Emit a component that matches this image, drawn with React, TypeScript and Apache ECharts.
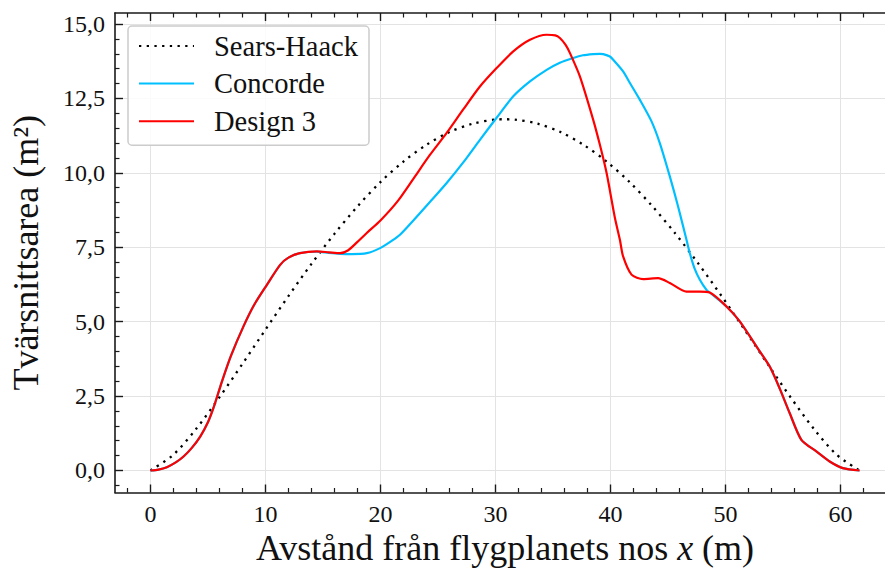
import React, { useEffect, useRef } from 'react';
import * as echarts from 'echarts';

// Sears-Haack reference body (x in m, area in m²)
const searsHaack: number[][] = [
  [0, 0], [2, 0.53], [4, 1.41], [6, 2.46], [8, 3.58], [10, 4.73], [12, 5.86], [14, 6.94],
  [16, 7.95], [18, 8.87], [20, 9.69], [22, 10.38], [24, 10.94], [26, 11.37], [28, 11.65],
  [30, 11.79], [30.83, 11.8], [31.66, 11.79], [33.66, 11.65], [35.66, 11.37], [37.66, 10.94],
  [39.66, 10.38], [41.66, 9.69], [43.66, 8.87], [45.66, 7.95], [47.66, 6.94], [49.66, 5.86],
  [51.66, 4.73], [53.66, 3.58], [55.66, 2.46], [57.66, 1.41], [59.66, 0.53], [61.66, 0],
];

// Concorde
const concorde: number[][] = [
  [0, 0], [0.7, 0.03], [1.43, 0.11], [2.2, 0.27], [2.88, 0.47], [3.6, 0.76], [4.33, 1.14],
  [5.0, 1.62], [5.48, 2.1], [6.21, 2.98], [7.0, 3.85], [8.09, 4.84], [9.0, 5.55], [10.03, 6.18],
  [11.28, 6.91], [12.0, 7.15], [13.0, 7.3], [14.47, 7.35], [15.5, 7.31], [16.49, 7.28],
  [17.5, 7.27], [18.81, 7.3], [19.97, 7.47], [21.0, 7.72], [21.7, 7.92], [22.86, 8.4],
  [24.3, 9.02], [25.76, 9.66], [27.2, 10.35], [28.65, 11.11], [30.1, 11.85], [31.55, 12.57],
  [33.0, 13.07], [34.45, 13.46], [35.6, 13.7], [36.76, 13.86], [37.6, 13.95], [38.5, 13.99],
  [39.08, 14.0], [39.37, 13.99], [39.95, 13.91], [40.24, 13.8], [41.1, 13.41], [41.69, 13.02],
  [42.55, 12.46], [43.57, 11.73], [44.29, 11.0], [45.16, 9.88], [45.88, 8.87], [46.61, 7.75],
  [46.9, 7.3], [47.3, 6.8], [47.77, 6.41], [48.35, 6.07], [48.63, 5.98], [50.09, 5.51],
  [51.24, 5.01], [52.98, 4.0], [53.85, 3.49], [54.72, 2.75], [55.58, 1.93], [56.6, 1.03],
  [57.9, 0.64], [59.06, 0.3], [60.2, 0.08], [61.66, 0],
];

// Design 3
const design3: number[][] = [
  [0, 0], [0.7, 0.03], [1.43, 0.11], [2.2, 0.27], [2.88, 0.47], [3.6, 0.76], [4.33, 1.14],
  [5.0, 1.62], [5.48, 2.1], [6.21, 2.98], [7.0, 3.85], [8.09, 4.84], [9.0, 5.55], [10.03, 6.18],
  [11.28, 6.91], [12.0, 7.15], [13.0, 7.3], [14.47, 7.36], [15.5, 7.33], [16.49, 7.3],
  [17.2, 7.4], [18.0, 7.68], [18.81, 7.98], [20.0, 8.4], [21.5, 9.05], [22.86, 9.8],
  [24.3, 10.6], [25.76, 11.34], [27.2, 12.13], [28.65, 12.9], [30.1, 13.52], [31.55, 14.08],
  [33.0, 14.47], [34.45, 14.64], [35.2, 14.62], [35.6, 14.53], [36.1, 14.3], [36.47, 14.03],
  [37.34, 13.24], [38.5, 11.78], [39.08, 10.94], [39.66, 10.0], [40.38, 8.5], [40.82, 7.75],
  [41.1, 7.19], [41.83, 6.58], [42.84, 6.43], [44.14, 6.46], [45.16, 6.3], [46.61, 6.01],
  [47.77, 6.01], [48.63, 5.98], [50.09, 5.51], [51.24, 5.01], [52.98, 4.0], [53.85, 3.49],
  [54.72, 2.75], [55.58, 1.93], [56.6, 1.03], [57.9, 0.64], [59.06, 0.3], [60.2, 0.08],
  [61.66, 0],
];

const seriesNames = ['Sears-Haack', 'Concorde', 'Design 3'];
const xMajorTicks = [0, 10, 20, 30, 40, 50, 60];
const xMinorTicks = [-2, 2, 4, 6, 8, 12, 14, 16, 18, 22, 24, 26, 28, 32, 34, 36, 38, 42, 44, 46, 48, 52, 54, 56, 58, 62, 64];
const yMajorTicks = [0, 2.5, 5, 7.5, 10, 12.5, 15];
const yMinorTicks = [-0.5, 0.5, 1, 1.5, 2, 3, 3.5, 4, 4.5, 5.5, 6, 6.5, 7, 8, 8.5, 9, 9.5, 10.5, 11, 11.5, 12, 13, 13.5, 14, 14.5];

const X_MIN = -3.08;
const X_MAX = 64.74;
const Y_MIN = -0.74;
const Y_MAX = 15.37;

const FONT = '"Liberation Serif", "DejaVu Serif", serif';
const AXIS_COLOR = '#1a1a1a';
const TEXT_COLOR = '#111111';

export default function App() {
  const ref = useRef<HTMLDivElement>(null);

  useEffect(() => {
    document.body.style.margin = '0';
    if (!ref.current) return;
    const chart = echarts.init(ref.current, null, { renderer: 'svg' });

    const baseX = {
      type: 'value' as const,
      min: X_MIN,
      max: X_MAX,
      minInterval: 10,
      maxInterval: 10,
      minorTick: { show: false },
      minorSplitLine: { show: false },
    };
    const baseY = {
      type: 'value' as const,
      min: Y_MIN,
      max: Y_MAX,
      minInterval: 2.5,
      maxInterval: 2.5,
      minorTick: { show: false },
      minorSplitLine: { show: false },
    };

    chart.setOption({
      animation: false,
      backgroundColor: '#ffffff',
      grid: {
        left: 115,
        top: 13,
        width: 780,
        height: 479.5,
        containLabel: false,
        outerBoundsMode: 'none',
        show: false,
      },
      legend: {
        show: true,
        orient: 'vertical',
        left: 128,
        top: 26,
        padding: [5, 11, 9, 10],
        itemWidth: 55,
        itemHeight: 14,
        itemGap: 7.6,
        backgroundColor: 'rgba(255,255,255,0.85)',
        borderColor: '#cccccc',
        borderWidth: 1.5,
        borderRadius: 4,
        itemStyle: { opacity: 0 },
        textStyle: { fontFamily: FONT, fontSize: 28.5, color: TEXT_COLOR, padding: [0, 0, 0, 15], lineHeight: 30 },
        data: seriesNames,
      },
      xAxis: [
        {
          ...baseX,
          position: 'bottom',
          axisLine: { show: true, onZero: false, lineStyle: { color: AXIS_COLOR, width: 1.6 } },
          axisTick: { show: true, inside: true, length: 8, customValues: xMajorTicks, lineStyle: { color: AXIS_COLOR, width: 1.4 } },
          axisLabel: {
            show: true,
            customValues: xMajorTicks,
            margin: 9,
            fontFamily: FONT,
            fontSize: 24,
            color: TEXT_COLOR,
            formatter: (v: number) => (Math.abs(v % 10) < 1e-6 ? String(Math.round(v)) : ''),
          },
          splitLine: { show: true, lineStyle: { color: '#e3e3e3', width: 1 } },
          name: '{a|Avstånd från flygplanets nos }{i|x}{a| (m)}',
          nameLocation: 'middle',
          nameGap: 32,
          nameTextStyle: {
            fontFamily: FONT,
            fontSize: 36,
            color: TEXT_COLOR,
            rich: {
              a: { fontFamily: FONT, fontSize: 36, color: TEXT_COLOR },
              i: { fontFamily: FONT, fontSize: 36, color: TEXT_COLOR, fontStyle: 'italic' },
            },
          },
        },
        {
          ...baseX,
          position: 'bottom',
          axisLine: { show: false, onZero: false },
          axisTick: { show: true, inside: true, length: 4.5, customValues: xMinorTicks, lineStyle: { color: AXIS_COLOR, width: 1.2 } },
          axisLabel: { show: false },
          splitLine: { show: false },
        },
        {
          ...baseX,
          position: 'top',
          axisLine: { show: true, onZero: false, lineStyle: { color: AXIS_COLOR, width: 1.6 } },
          axisTick: { show: true, inside: true, length: 8, customValues: xMajorTicks, lineStyle: { color: AXIS_COLOR, width: 1.4 } },
          axisLabel: { show: false },
          splitLine: { show: false },
        },
        {
          ...baseX,
          position: 'top',
          axisLine: { show: false, onZero: false },
          axisTick: { show: true, inside: true, length: 4.5, customValues: xMinorTicks, lineStyle: { color: AXIS_COLOR, width: 1.2 } },
          axisLabel: { show: false },
          splitLine: { show: false },
        },
      ],
      yAxis: [
        {
          ...baseY,
          position: 'left',
          axisLine: { show: true, onZero: false, lineStyle: { color: AXIS_COLOR, width: 1.6 } },
          axisTick: { show: true, inside: true, length: 8, customValues: yMajorTicks, lineStyle: { color: AXIS_COLOR, width: 1.4 } },
          axisLabel: {
            show: true,
            customValues: yMajorTicks,
            margin: 10,
            fontFamily: FONT,
            fontSize: 24,
            color: TEXT_COLOR,
            formatter: (v: number) => {
              const r = v / 2.5;
              if (Math.abs(r - Math.round(r)) > 1e-6) return '';
              return v.toFixed(1).replace('.', ',');
            },
          },
          splitLine: { show: true, lineStyle: { color: '#e3e3e3', width: 1 } },
          name: 'Tvärsnittsarea (m²)',
          nameLocation: 'middle',
          nameRotate: 90,
          nameGap: 71,
          nameTextStyle: { fontFamily: FONT, fontSize: 36, color: TEXT_COLOR },
        },
        {
          ...baseY,
          position: 'left',
          axisLine: { show: false, onZero: false },
          axisTick: { show: true, inside: true, length: 4.5, customValues: yMinorTicks, lineStyle: { color: AXIS_COLOR, width: 1.2 } },
          axisLabel: { show: false },
          splitLine: { show: false },
        },
      ],
      series: [
        {
          name: seriesNames[0],
          type: 'line',
          data: searsHaack,
          symbol: 'none',
          smooth: 0.3,
          color: '#000000',
          lineStyle: { color: '#000000', width: 2.3, type: [2.3, 5.4], cap: 'butt' },
          z: 2,
        },
        {
          name: seriesNames[1],
          type: 'line',
          data: concorde,
          symbol: 'none',
          smooth: 0.25,
          color: '#00bfff',
          lineStyle: { color: '#00bfff', width: 2.2 },
          z: 3,
        },
        {
          name: seriesNames[2],
          type: 'line',
          data: design3,
          symbol: 'none',
          smooth: 0.25,
          color: '#ff0000',
          lineStyle: { color: '#ff0000', width: 2.2 },
          z: 4,
        },
      ],
    });

    return () => chart.dispose();
  }, []);

  return <div ref={ref} style={{ width: 885, height: 569 }} />;
}
